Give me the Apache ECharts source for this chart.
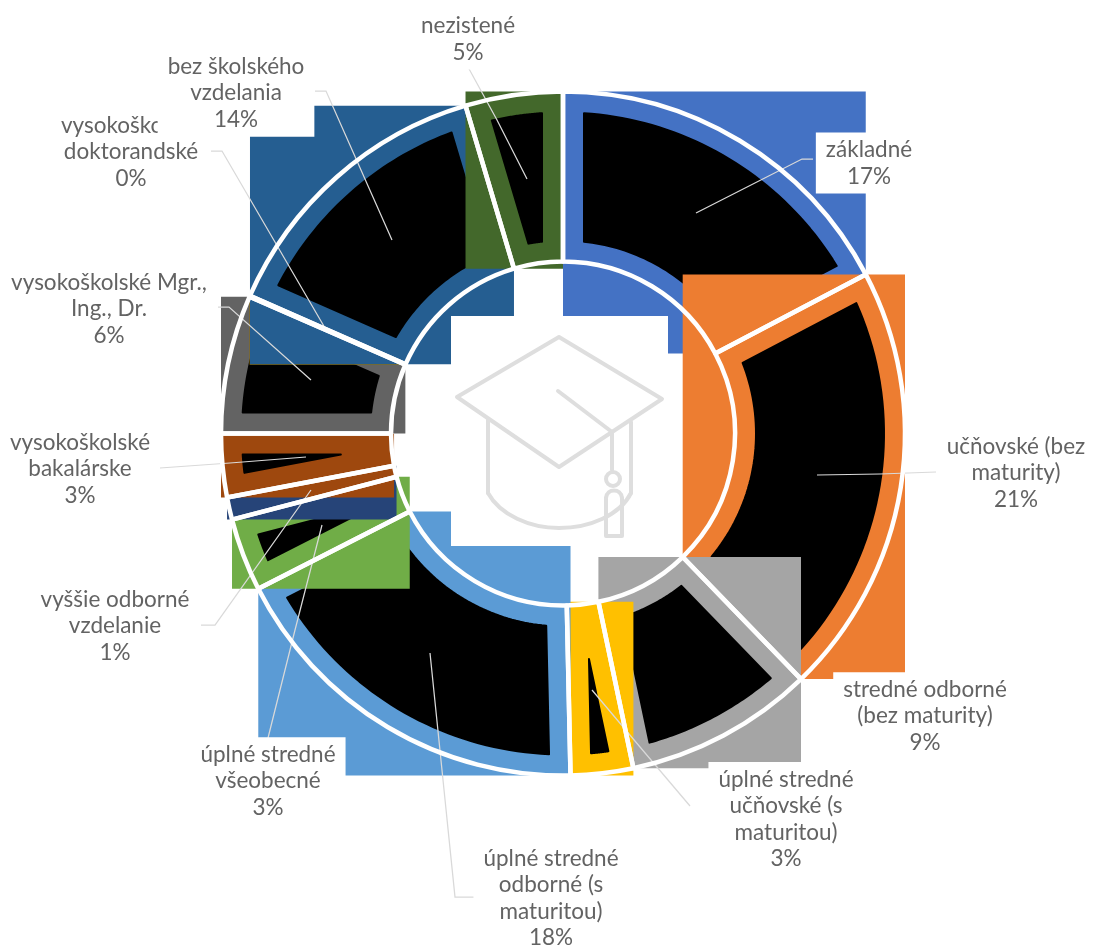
<!DOCTYPE html>
<html><head><meta charset="utf-8">
<style>html,body{margin:0;padding:0;background:#fff}#c{width:1094px;height:947px}</style>
<script src="https://cdn.jsdelivr.net/npm/echarts@6/dist/echarts.min.js"></script>
</head><body><div id="c"></div>
<script>
const categories = ['základné','učňovské (bez\nmaturity)','stredné odborné\n(bez maturity)','úplné stredné\nučňovské (s\nmaturitou)','úplné stredné\nodborné (s\nmaturitou)','úplné stredné\nvšeobecné','vyššie odborné\nvzdelanie','vysokoškolské\nbakalárske','vysokoškolské Mgr.,\nIng., Dr.','vysokoškolské\ndoktorandské','bez školského\nvzdelania','nezistené'];
const values = [17.3,20.45,8.95,2.95,17.85,3.45,1.05,3,6.55,0.05,13.8,4.6];
const percentLabels = ['17%','21%','9%','3%','18%','3%','1%','3%','6%','0%','14%','5%'];
const colors = ['#4472C4','#ED7D31','#A5A5A5','#FFC000','#5B9BD5','#70AD47','#264478','#9E480E','#636363','#997300','#255E91','#43682B'];
const labelCenters = [[869,163],[1016,473],[925,716],[786,819],[551,898],[268,781],[115,626],[80,469],[109,309],[131,152],[236,93],[468,39]];
const leaderLines = [
 [[813,159],[802,159],[696,213]],
 [[936,472],[880,474],[817,475]],
 null,
 [[592,690],[640,747],[690,806]],
 [[430,653],[455,897],[474,897]],
 [[322,525],[295,630],[268,738]],
 [[311,490],[215,625],[201,625]],
 [[306,457],[230,463],[160,468]],
 [[311,380],[229,307],[218,307]],
 [[325,328],[222,151],[211,151]],
 [[392,240],[326,91],[315,91]],
 [[527,179],[497,120],[468,67]]
];
const CX=563, CY=433.5, R=342, r0=172, INSET=21;
const total = values.reduce((a,b)=>a+b,0);
const cum=[0]; values.forEach((v,i)=>cum.push(cum[i]+v));
const pt=(rad,a)=>[CX+rad*Math.sin(a),CY-rad*Math.cos(a)];
function bbox(a0,a1){
  const ps=[pt(R,a0),pt(R,a1),pt(r0,a0),pt(r0,a1)];
  for(let k=0;k<=4;k++){const q=k*Math.PI/2; if(q>=a0&&q<=a1) ps.push(pt(R,q));}
  const xs=ps.map(p=>p[0]),ys=ps.map(p=>p[1]);
  return {x:Math.min(...xs),y:Math.min(...ys),width:Math.max(...xs)-Math.min(...xs),height:Math.max(...ys)-Math.min(...ys)};
}
function inset(a0,a1){
  const Ro=R-INSET, Ri=r0+INSET, ha=(a1-a0)/2;
  if(ha<=0) return null;
  const apex=INSET/Math.sin(ha);
  if(apex>=Ro) return null;
  const pts=[], n=40, so=Math.asin(INSET/Ro);
  for(let k=0;k<=n;k++) pts.push(pt(Ro,a0+so+(a1-a0-2*so)*k/n));
  if(apex>=Ri){ pts.push(pt(apex,(a0+a1)/2)); }
  else { const si=Math.asin(INSET/Ri);
    for(let k=n;k>=0;k--) pts.push(pt(Ri,a0+si+(a1-a0-2*si)*k/n)); }
  return pts;
}
const capStyle={fill:'none',stroke:'#DEDEDE',lineWidth:4,lineJoin:'round',lineCap:'round'};
const chart=echarts.init(document.getElementById('c'),null,{renderer:'canvas'});
chart.setOption({
  animation:false,
  backgroundColor:'#fff',
  graphic:[
    {type:'rect',z:5,silent:true,shape:{x:451,y:316,width:217,height:230},style:{fill:'#fff'}},
    {type:'polygon',z:6,silent:true,shape:{points:[[559,337],[662,399],[559,467],[457,397]]},style:capStyle},
    {type:'polyline',z:6,silent:true,shape:{points:[[488,420],[488,493]]},style:capStyle},
    {type:'bezierCurve',z:6,silent:true,shape:{x1:488,y1:493,cpx1:500,cpy1:515,cpx2:530,cpy2:528,x2:559,y2:528},style:capStyle},
    {type:'bezierCurve',z:6,silent:true,shape:{x1:559,y1:528,cpx1:590,cpy1:528,cpx2:620,cpy2:515,x2:631,y2:493},style:capStyle},
    {type:'polyline',z:6,silent:true,shape:{points:[[631,493],[631,422]]},style:capStyle},
    {type:'polyline',z:6,silent:true,shape:{points:[[558,391],[612,432],[612,470]]},style:capStyle},
    {type:'circle',z:6,silent:true,shape:{cx:613,cy:479,r:7},style:capStyle},
    {type:'polyline',z:6,silent:true,shape:{points:[[606,498],[606,536],[622,536],[622,498]]},style:capStyle},
    {type:'bezierCurve',z:6,silent:true,shape:{x1:606,y1:498,cpx1:607,cpy1:488,cpx2:621,cpy2:488,x2:622,y2:498},style:capStyle}
  ],
  series:[
    {type:'custom',coordinateSystem:'none',z:1,silent:true,clip:false,
     data:values.map((v,i)=>[i,v]),
     renderItem:(params)=>{
       const i=params.dataIndex;
       const a0=cum[i]/total*2*Math.PI,a1=cum[i+1]/total*2*Math.PI;
       const children=[{type:'rect',shape:bbox(a0,a1),style:{fill:colors[i]}}];
       const pts=inset(a0,a1);
       if(pts) children.push({type:'polygon',shape:{points:pts},style:{fill:'#000',stroke:'#000',lineWidth:2,lineJoin:'round'}});
       return {type:'group',children};
     }},
    {type:'pie',z:2,silent:true,center:[CX,CY],radius:[r0,R],startAngle:90,clockwise:true,
     avoidLabelOverlap:false,minShowLabelAngle:0,percentPrecision:0,
     data:values.map((v,i)=>({name:categories[i],value:v,
        labelLine:{show:!!leaderLines[i]}})),
     itemStyle:{color:'rgba(0,0,0,0)',borderColor:'#fff',borderWidth:4.5},
     label:{show:true,position:'outer',alignTo:'none',
        formatter:p=>categories[p.dataIndex]+'\n'+percentLabels[p.dataIndex],
        fontFamily:'Lato',fontSize:22.5,color:'#636363',lineHeight:26.5,align:'center',
        backgroundColor:'#fff',padding:[4,10]},
     labelLine:{show:true,lineStyle:{color:'#D9D9D9',width:1.25}},
     labelLayout:(p)=>{const i=p.dataIndex,c=labelCenters[i];
        const o={x:c[0],y:c[1],align:'center',verticalAlign:'middle',hideOverlap:false,moveOverlap:null};
        if(leaderLines[i]) o.labelLinePoints=leaderLines[i];
        return o;}
    }
  ]
});
</script></body></html>
